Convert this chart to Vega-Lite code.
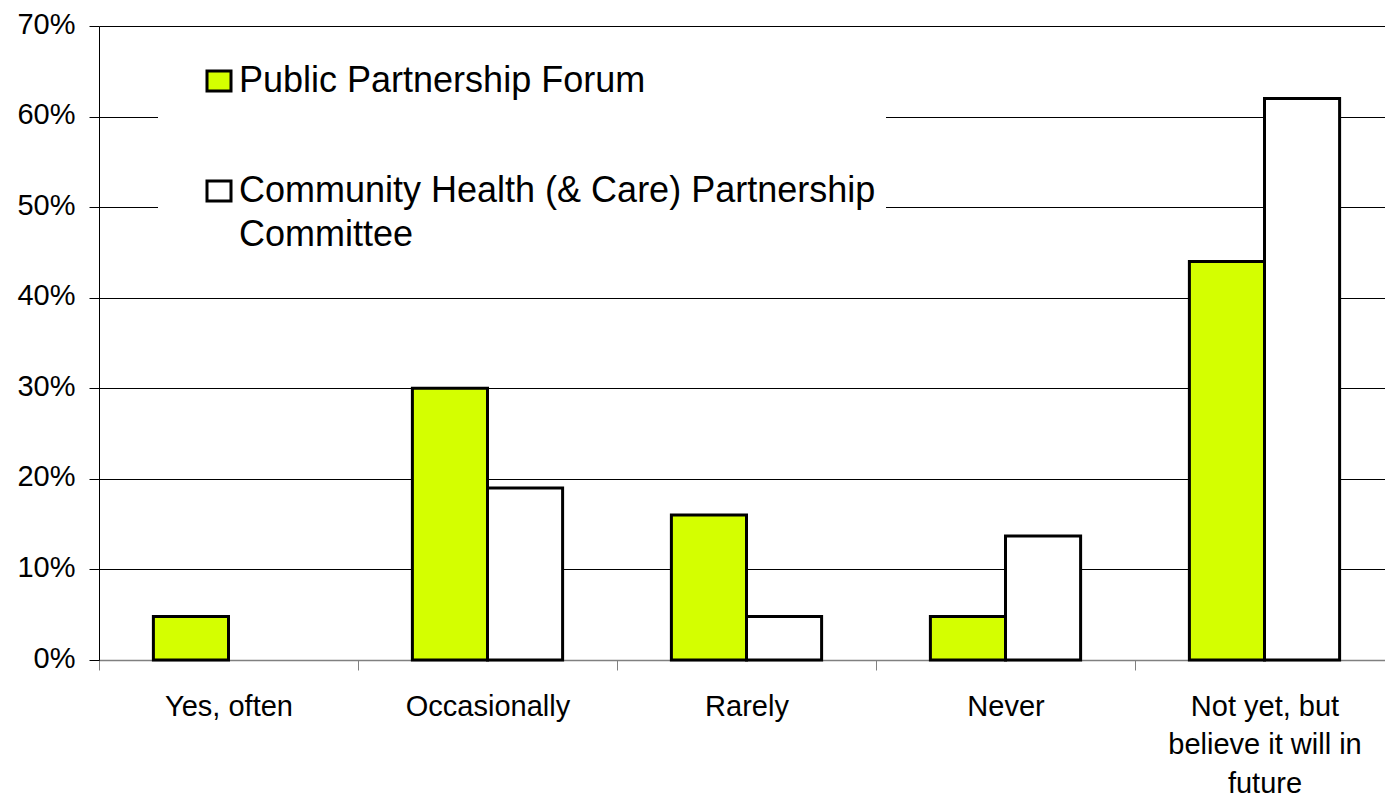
{
  "$schema": "https://vega.github.io/schema/vega-lite/v6.json",
  "width": 1286,
  "height": 634,
  "autosize": {"type": "none"},
  "padding": {"left": 99, "top": 26, "right": 0, "bottom": 139},
  "background": "white",
  "config": {"view": {"stroke": null}, "font": "Liberation Sans"},
  "data": {
    "values": [
      {"response": "Yes, often", "group": "Public Partnership Forum", "pct": 0.048},
      {"response": "Occasionally", "group": "Public Partnership Forum", "pct": 0.30},
      {"response": "Occasionally", "group": "Community Health (& Care) Partnership Committee", "pct": 0.19},
      {"response": "Rarely", "group": "Public Partnership Forum", "pct": 0.16},
      {"response": "Rarely", "group": "Community Health (& Care) Partnership Committee", "pct": 0.048},
      {"response": "Never", "group": "Public Partnership Forum", "pct": 0.048},
      {"response": "Never", "group": "Community Health (& Care) Partnership Committee", "pct": 0.137},
      {"response": "Not yet, but believe it will in future", "group": "Public Partnership Forum", "pct": 0.44},
      {"response": "Not yet, but believe it will in future", "group": "Community Health (& Care) Partnership Committee", "pct": 0.62}
    ]
  },
  "mark": {"type": "bar", "stroke": "black", "strokeWidth": 3},
  "encoding": {
    "x": {
      "field": "response",
      "type": "nominal",
      "sort": ["Yes, often", "Occasionally", "Rarely", "Never", "Not yet, but believe it will in future"],
      "scale": {"range": [0, 1295], "paddingInner": 0.42, "paddingOuter": 0.21},
      "axis": {
        "title": null,
        "labelAngle": 0,
        "labelFont": "Liberation Sans",
        "labelFontSize": 29,
        "labelColor": "black",
        "labelBaseline": "top",
        "labelLineHeight": 38.5,
        "labelPadding": 22,
        "labelLimit": 1000,
        "labelExpr": "datum.label == 'Not yet, but believe it will in future' ? ['Not yet, but', 'believe it will in', 'future'] : datum.label",
        "tickBand": "center",
        "tickOffset": -129.5,
        "labelOffset": 129.5,
        "tickSize": 10,
        "tickColor": "#808080",
        "tickWidth": 1,
        "domainColor": "#808080",
        "domainWidth": 1.5,
        "grid": false
      }
    },
    "xOffset": {
      "field": "group",
      "type": "nominal",
      "sort": ["Public Partnership Forum", "Community Health (& Care) Partnership Committee"],
      "scale": {"paddingInner": 0, "paddingOuter": 0}
    },
    "y": {
      "field": "pct",
      "type": "quantitative",
      "scale": {"domain": [0, 0.7], "nice": false},
      "axis": {
        "title": null,
        "values": [0, 0.1, 0.2, 0.3, 0.4, 0.5, 0.6, 0.7],
        "format": ".0%",
        "labelFont": "Liberation Sans",
        "labelFontSize": 29,
        "labelColor": "black",
        "labelPadding": 14,
        "labelOffset": -2,
        "tickSize": 10,
        "tickColor": "black",
        "domainColor": "black",
        "grid": true,
        "gridColor": "black",
        "gridWidth": 1
      }
    },
    "color": {
      "field": "group",
      "type": "nominal",
      "sort": ["Public Partnership Forum", "Community Health (& Care) Partnership Committee"],
      "scale": {
        "domain": ["Public Partnership Forum", "Community Health (& Care) Partnership Committee"],
        "range": ["#d4ff00", "#ffffff"]
      },
      "legend": {
        "title": null,
        "orient": "none",
        "legendX": 59,
        "legendY": 27,
        "padding": 10,
        "fillColor": "white",
        "strokeColor": null,
        "symbolType": "M-1.2,-1H1.2V1H-1.2Z",
        "symbolSize": 400,
        "symbolStrokeColor": "black",
        "symbolStrokeWidth": 3,
        "symbolOpacity": 1,
        "symbolOffset": 33,
        "labelFont": "Liberation Sans",
        "labelFontSize": 36,
        "labelColor": "black",
        "labelLimit": 2000,
        "labelOffset": 2,
        "labelBaseline": "alphabetic",
        "rowPadding": 74,
        "labelExpr": "datum.label == 'Community Health (& Care) Partnership Committee' ? ['Community Health (& Care) Partnership', 'Committee'] : datum.label",
        "encode": {"labels": {"update": {"dy": {"value": 11}, "lineHeight": {"value": 44}}}}
      }
    }
  }
}
